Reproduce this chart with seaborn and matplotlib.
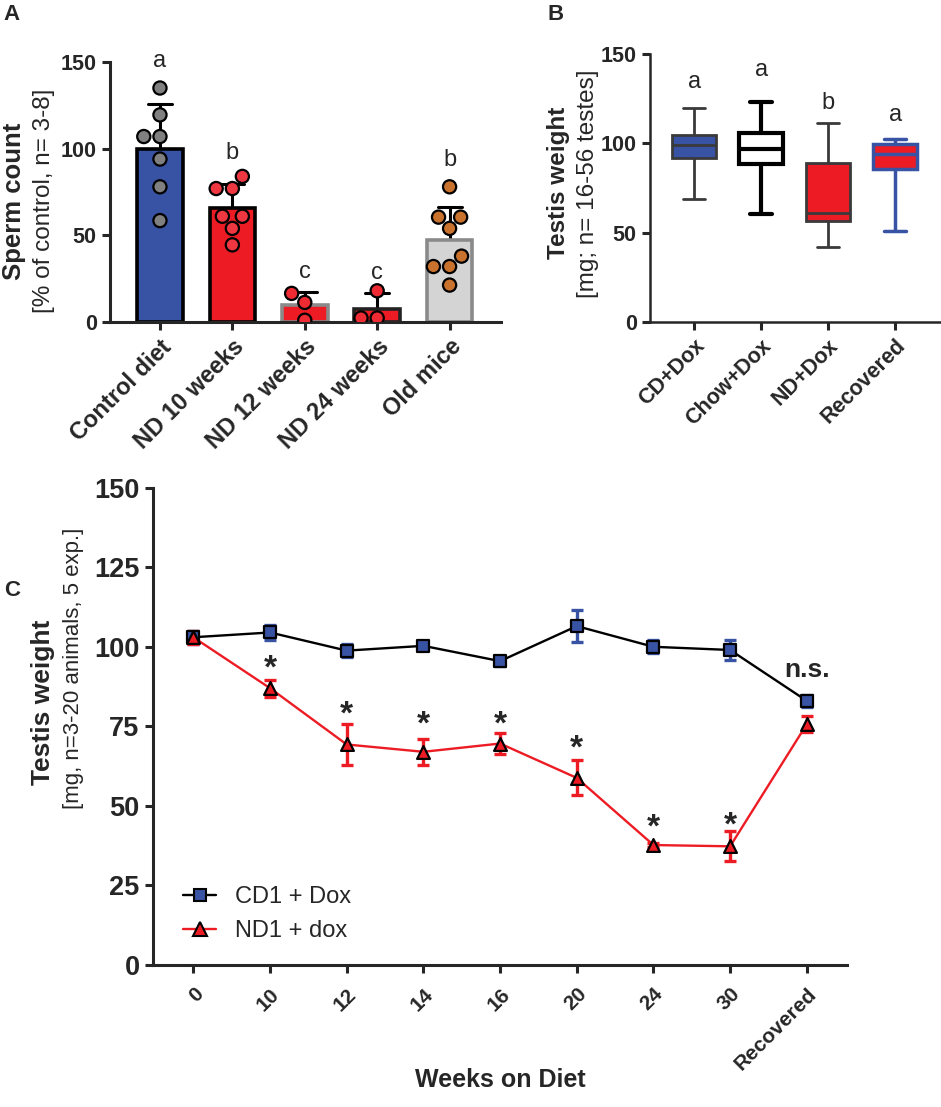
import numpy as np
import pandas as pd
import matplotlib
matplotlib.use('Agg')
import matplotlib.pyplot as plt
from matplotlib.lines import Line2D
import seaborn as sns

# A: sperm count, individual animals (% of control)
groups_a = ['Control diet', 'ND 10 weeks', 'ND 12 weeks', 'ND 24 weeks', 'Old mice']
control_pts = [135, 119.5, 107, 107, 94, 78, 58.5]
nd10_pts = [84, 77, 77, 61, 61, 54, 44.5]
nd12_pts = [16.5, 11.3, 1.0]
nd24_pts = [18, 2.3, 2.3]
old_pts = [78, 60.5, 60.5, 54, 38, 32, 32, 21.3]
letters_a = ['a', 'b', 'c', 'c', 'b']
letters_a_y = [150.5, 97.5, 29, 28, 93.5]

# B: testis weight, five-number summaries (min, q1, median, q3, max)
groups_b = ['CD+Dox', 'Chow+Dox', 'ND+Dox', 'Recovered']
cd_dox = [68.6, 92.0, 99.0, 104.6, 119.5]
chow_dox = [60.7, 88.3, 97.1, 106.0, 123.2]
nd_dox = [41.7, 56.4, 61.0, 89.0, 111.5]
recovered_b = [50.8, 85.4, 94.3, 99.5, 102.2]
letters_b = ['a', 'a', 'b', 'a']
letters_b_y = [134.5, 141, 122.5, 116]

# C: testis weight over time (mean, error)
weeks = ['0', '10', '12', '14', '16', '20', '24', '30', 'Recovered']
cd1_mean = [103, 104.5, 98.8, 100.3, 95.5, 106.5, 100, 99, 83]
cd1_err = [2, 2.5, 2, 1, 1.5, 5, 2, 3, 2]
nd1_mean = [103, 87, 69.3, 67, 69.6, 58.8, 37.7, 37.3, 75.7]
nd1_err = [2, 2.7, 6.4, 4, 3.3, 5.5, 0.5, 4.7, 2.5]
star_weeks = ['10', '12', '14', '16', '20', '24', '30']
star_y = [93, 78.5, 75.5, 75.5, 68, 43, 43.8]

BLUE = '#3953A4'
RED = '#ED1C24'

sns.set_style('ticks')
plt.rcParams['font.family'] = ['Liberation Sans', 'DejaVu Sans']
plt.rcParams['axes.linewidth'] = 2.2
plt.rcParams['xtick.major.width'] = 2.2
plt.rcParams['ytick.major.width'] = 2.2
plt.rcParams['xtick.major.size'] = 6
plt.rcParams['ytick.major.size'] = 6

W, H = 941, 1107
fig = plt.figure(figsize=(W / 100, H / 100), dpi=100)


def box(l, t, r, b):
    return [l / W, 1 - b / H, (r - l) / W, (b - t) / H]


def fpos(x, y):
    return x / W, 1 - y / H


# ---------- panel A ----------
axA = fig.add_axes(box(110, 62, 501, 322))
dfA = pd.DataFrame({
    'group': sum([[g] * len(p) for g, p in zip(groups_a, [control_pts, nd10_pts, nd12_pts, nd24_pts, old_pts])], []),
    'value': control_pts + nd10_pts + nd12_pts + nd24_pts + old_pts,
})
bar_fill = dict(zip(groups_a, [BLUE, RED, RED, RED, '#D4D4D4']))
bar_edge = ['black', 'black', '#8A8A8A', '#222222', '#8A8A8A']
pt_fill = dict(zip(groups_a, ['#808080', '#EE3740', '#EE2A32', '#EE2A32', '#C8722E']))

sns.barplot(data=dfA, x='group', y='value', hue='group', palette=bar_fill, order=groups_a,
            errorbar='sd', capsize=0.33, err_kws={'color': 'black', 'linewidth': 2.2},
            width=0.63, saturation=1, linewidth=2.6, legend=False, ax=axA)
for patch, ec in zip(axA.patches, bar_edge):
    patch.set_edgecolor(ec)
for ln in axA.lines:
    ln.set_zorder(0.5)
sns.swarmplot(data=dfA, x='group', y='value', hue='group', palette=pt_fill, order=groups_a,
              size=9.5, edgecolor='black', linewidth=1.6, legend=False, ax=axA)
axA.set_ylim(0, 150)
axA.set_xlim(-0.69, 4.71)
axA.set_yticks([0, 50, 100, 150])
axA.set_xlabel('')
axA.set_ylabel('')
for i, (lt, ly) in enumerate(zip(letters_a, letters_a_y)):
    axA.text(i, ly, lt, ha='center', va='center', fontsize=17, clip_on=False)
axA.tick_params(axis='y', labelsize=15.5)
axA.set_xticks(range(len(groups_a)))
axA.set_xticklabels(groups_a, rotation=45, ha='right', rotation_mode='anchor',
                    fontsize=17, fontweight='bold')
for lab in axA.get_yticklabels():
    lab.set_fontweight('bold')
sns.despine(ax=axA)
fig.text(*fpos(14, 201), 'Sperm count', rotation=90, ha='center', va='center',
         fontsize=18.5, fontweight='bold')
fig.text(*fpos(44, 201), '[% of control, n= 3-8]', rotation=90, ha='center', va='center',
         fontsize=17.5)
fig.text(*fpos(11, 14), 'A', ha='center', va='center', fontsize=16, fontweight='bold')

# ---------- panel B ----------
axB = fig.add_axes(box(650, 54, 940, 322))
box_data = [cd_dox, chow_dox, nd_dox, recovered_b]
dfB = pd.DataFrame({
    'group': sum([[g] * len(v) for g, v in zip(groups_b, box_data)], []),
    'value': sum(box_data, []),
})
box_fill = [BLUE, 'white', RED, RED]
box_edge = ['#3A3A3A', 'black', '#3A3A3A', BLUE]
box_lw = [2.0, 3.0, 2.0, 2.5]
for g, fc, ec, lw in zip(groups_b, box_fill, box_edge, box_lw):
    sns.boxplot(data=dfB[dfB['group'] == g], x='group', y='value', order=groups_b,
                color=fc, linecolor=ec, linewidth=lw, whis=(0, 100), width=0.65,
                saturation=1, fliersize=0, ax=axB)
axB.set_ylim(0, 150)
axB.set_xlim(-0.66, 3.67)
axB.set_yticks([0, 50, 100, 150])
axB.set_xlabel('')
axB.set_ylabel('')
for i, (lt, ly) in enumerate(zip(letters_b, letters_b_y)):
    axB.text(i, ly, lt, ha='center', va='center', fontsize=17, clip_on=False)
axB.tick_params(axis='y', labelsize=15.5)
axB.set_xticks(range(len(groups_b)))
axB.set_xticklabels(groups_b, rotation=45, ha='right', rotation_mode='anchor',
                    fontsize=15.5, fontweight='bold')
for lab in axB.get_yticklabels():
    lab.set_fontweight('bold')
for s in ['left', 'bottom']:
    axB.spines[s].set_linewidth(1.8)
sns.despine(ax=axB)
fig.text(*fpos(559, 183), 'Testis weight', rotation=90, ha='center', va='center',
         fontsize=17.5, fontweight='bold')
fig.text(*fpos(588, 184), '[mg; n= 16-56 testes]', rotation=90, ha='center', va='center',
         fontsize=17.5)
fig.text(*fpos(556, 14), 'B', ha='center', va='center', fontsize=16, fontweight='bold')

# ---------- panel C ----------
axC = fig.add_axes(box(152.7, 487.7, 846.7, 965))
sns.lineplot(x=weeks, y=cd1_mean, color='black', linewidth=1.7, sort=False, ax=axC, zorder=1)
sns.lineplot(x=weeks, y=nd1_mean, color=RED, linewidth=1.7, sort=False, ax=axC, zorder=1)
axC.errorbar(weeks, cd1_mean, yerr=cd1_err, fmt='none', ecolor=BLUE, elinewidth=2.4,
             capsize=4.5, capthick=2.4, zorder=2)
axC.errorbar(weeks, nd1_mean, yerr=nd1_err, fmt='none', ecolor=RED, elinewidth=2.4,
             capsize=4.5, capthick=2.4, zorder=2)
sns.scatterplot(x=weeks, y=cd1_mean, marker='s', color=BLUE, edgecolor='black',
                linewidth=1.6, s=75, ax=axC, zorder=4)
sns.scatterplot(x=weeks, y=nd1_mean, marker='^', color=RED, edgecolor='black',
                linewidth=1.6, s=85, ax=axC, zorder=5)
for wk, sy in zip(star_weeks, star_y):
    axC.text(weeks.index(wk), sy, '*', ha='center', va='center', fontsize=24, fontweight='bold')
axC.text(len(weeks) - 1, 92.7, 'n.s.', ha='center', va='center', fontsize=19, fontweight='bold')
axC.set_ylim(0, 150)
axC.set_xlim(-0.53, 8.52)
axC.set_yticks([0, 25, 50, 75, 100, 125, 150])
axC.tick_params(axis='y', labelsize=19.5)
axC.tick_params(axis='x', pad=8)
axC.set_xticks(range(len(weeks)))
axC.set_xticklabels(weeks, rotation=45, ha='right', rotation_mode='anchor',
                    fontsize=15, fontweight='bold')
for lab in axC.get_yticklabels():
    lab.set_fontweight('bold')
sns.despine(ax=axC)
handles = [
    Line2D([], [], color='black', linewidth=1.7, marker='s', markersize=9,
           markerfacecolor=BLUE, markeredgecolor='black', markeredgewidth=1.5),
    Line2D([], [], color=RED, linewidth=1.7, marker='^', markersize=10,
           markerfacecolor=RED, markeredgecolor='black', markeredgewidth=1.5),
]
axC.legend(handles, ['CD1 + Dox', 'ND1 + dox'], loc='upper left',
           bbox_to_anchor=fpos(183, 886), bbox_transform=fig.transFigure,
           frameon=False, fontsize=17, handlelength=1.4, handletextpad=0.8,
           borderpad=0, borderaxespad=0, labelspacing=0.5)
fig.text(*fpos(500, 1080), 'Weeks on Diet', ha='center', va='center',
         fontsize=18, fontweight='bold')
fig.text(*fpos(43, 702), 'Testis weight', rotation=90, ha='center', va='center',
         fontsize=19, fontweight='bold')
fig.text(*fpos(74, 668), '[mg, n=3-20 animals, 5 exp.]', rotation=90, ha='center', va='center',
         fontsize=16)
fig.text(*fpos(12, 590), 'C', ha='center', va='center', fontsize=16, fontweight='bold')

fig.savefig('out.png', dpi=100)
